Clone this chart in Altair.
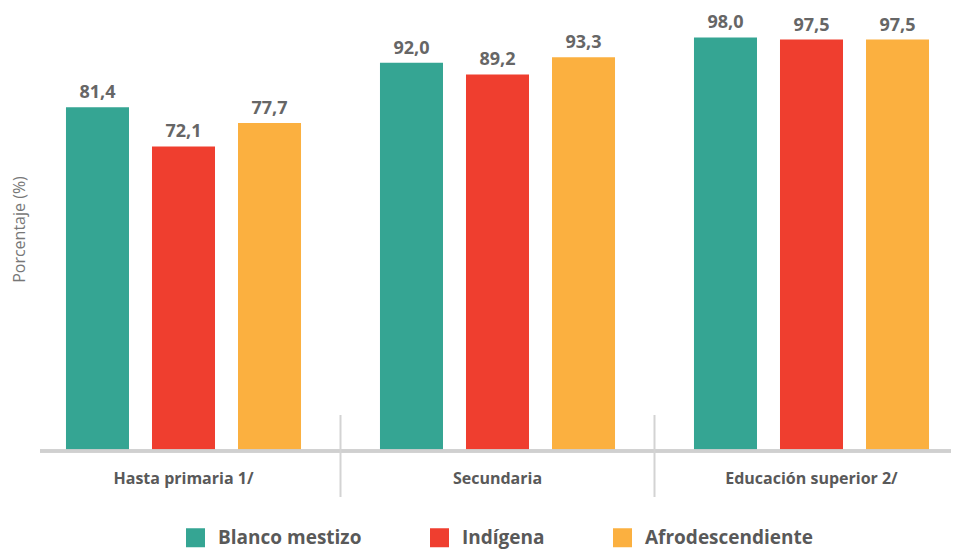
import altair as alt
import pandas as pd

groups = ["Hasta primaria 1/", "Secundaria", "Educación superior 2/"]
series = ["Blanco mestizo", "Indígena", "Afrodescendiente"]
blanco = [81.4, 92.0, 98.0]
indigena = [72.1, 89.2, 97.5]
afro = [77.7, 93.3, 97.5]
colors = ["#35A593", "#EF3E2F", "#FBB040"]

rows = []
for s, vals in zip(series, [blanco, indigena, afro]):
    for g, v in zip(groups, vals):
        rows.append({"grupo": g, "serie": s, "valor": v,
                     "etiqueta": f"{v:.1f}".replace(".", ",")})
df = pd.DataFrame(rows)
sep_df = pd.DataFrame({"grupo": groups[1:]})

FONT = "Open Sans"

xscale = alt.Scale(domain=groups, range=[-13.5, 928.5], paddingInner=0, paddingOuter=0)
xoff = alt.XOffset("serie:N", sort=series,
                   scale=alt.Scale(domain=series, paddingInner=0.2674, paddingOuter=0.459))
yscale = alt.Scale(domain=[0, 100])

bars = alt.Chart(df).mark_bar().encode(
    x=alt.X("grupo:N", sort=groups, scale=xscale,
            axis=alt.Axis(title=None, domain=False, ticks=False, grid=False,
                          labelAngle=0, labelFont=FONT, labelFontSize=16,
                          labelFontWeight="bold", labelColor="#595959",
                          labelBaseline="alphabetic", labelPadding=33)),
    xOffset=xoff,
    y=alt.Y("valor:Q", scale=yscale,
            axis=alt.Axis(title="Porcentaje (%)", labels=False, ticks=False,
                          domain=False, grid=False, titleFont=FONT,
                          titleFontSize=16, titleFontWeight="normal",
                          titleColor="#777777", titlePadding=13, titleY=200)),
    color=alt.Color("serie:N", sort=series,
                    scale=alt.Scale(domain=series, range=colors),
                    legend=alt.Legend(title=None, orient="none", legendX=146,
                                      legendY=499, direction="horizontal",
                                      columns=3, symbolType="square",
                                      symbolSize=361, symbolStrokeWidth=0,
                                      labelFont=FONT, labelFontSize=19,
                                      labelFontWeight="bold", labelLimit=0,
                                      labelColor="#595959", labelOffset=13,
                                      columnPadding=68)),
)

labels = alt.Chart(df).mark_text(
    dy=-9, baseline="alphabetic", font=FONT, fontSize=18,
    fontWeight="bold", color="#666666"
).encode(
    x=alt.X("grupo:N", sort=groups, scale=xscale),
    xOffset=xoff,
    y=alt.Y("valor:Q", scale=yscale),
    text="etiqueta:N",
)

baseline = alt.Chart(df).mark_rule(color="#D0D0D0", strokeWidth=2.5).encode(
    x=alt.value(0), x2=alt.value(911), y=alt.value(422)
)

seps = alt.Chart(sep_df).mark_rule(color="#D3D3D3", strokeWidth=2).encode(
    x=alt.X("grupo:N", sort=groups, scale=xscale, bandPosition=0),
    y=alt.value(386), y2=alt.value(468),
)

chart = alt.layer(bars, labels, baseline, seps).properties(
    width=911, height=421,
    autosize=alt.AutoSizeParams(type="none"),
    padding={"left": 32, "top": 21, "right": 0, "bottom": 100},
).configure_view(stroke=None)

chart.save("out.html", embed_options={"renderer": "svg", "actions": False})
